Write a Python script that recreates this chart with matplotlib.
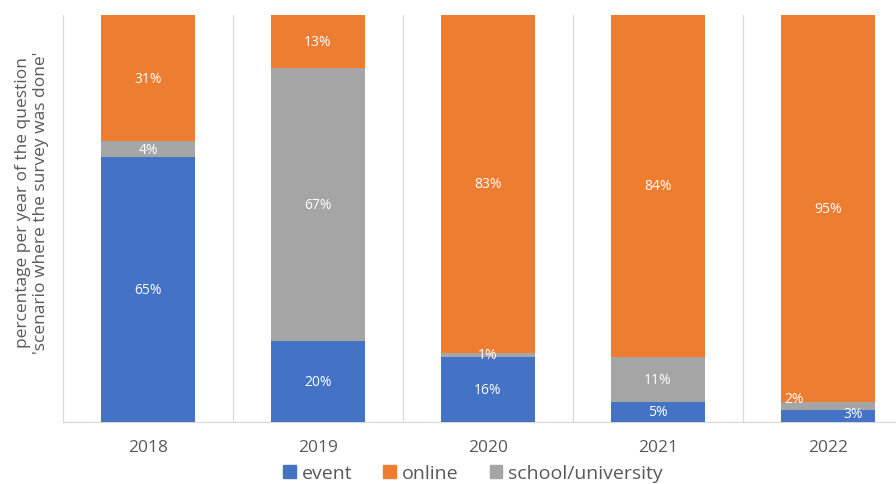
import matplotlib
matplotlib.use("Agg")
import matplotlib.pyplot as plt
from matplotlib.patches import Patch
import numpy as np

years = ["2018", "2019", "2020", "2021", "2022"]
event = [65, 20, 16, 5, 3]
school = [4, 67, 1, 11, 2]
online = [31, 13, 83, 84, 95]

c_event = "#4472C4"
c_online = "#ED7D31"
c_school = "#A5A5A5"
txt = "#595959"
grid = "#D9D9D9"

plt.rcParams["font.family"] = ["Open Sans", "DejaVu Sans"]

fig = plt.figure(figsize=(8.96, 4.85), dpi=100)
# plot area spans past the right edge of the canvas
ax = fig.add_axes([63 / 896, 1 - 423 / 485, 850 / 896, 407 / 485])

x = np.arange(len(years))
w = 0.55
ev = np.array(event)
sc = np.array(school)
on = np.array(online)
ax.bar(x, ev, w, color=c_event, zorder=3)
ax.bar(x, sc, w, bottom=ev, color=c_school, zorder=3)
ax.bar(x, on, w, bottom=ev + sc, color=c_online, zorder=3)

lab = dict(color="white", fontsize=10, ha="center", va="center", zorder=4)
for i in range(len(years)):
    e, s, o = ev[i], sc[i], on[i]
    if years[i] == "2022":
        ax.text(i - 0.2, e + s + 0.8, f"{s}%", **lab)
        ax.text(i + 0.15, e - 0.9, f"{e}%", **lab)
        ax.text(i, e + s + o / 2, f"{o}%", **lab)
        continue
    ax.text(i, e / 2, f"{e}%", **lab)
    ax.text(i, e + s / 2, f"{s}%", **lab)
    ax.text(i, e + s + o / 2, f"{o}%", **lab)

ax.set_xlim(-0.5, len(years) - 0.5)
ax.set_ylim(0, 100)
for b in np.arange(-0.5, len(years), 1.0):
    ax.axvline(b, color=grid, lw=0.9, zorder=1)

for s in ["top", "right", "left"]:
    ax.spines[s].set_visible(False)
ax.spines["bottom"].set_color(grid)
ax.spines["bottom"].set_linewidth(0.9)
ax.set_yticks([])
ax.set_xticks(x)
ax.set_xticklabels(years, color=txt, fontsize=12.5)
ax.tick_params(axis="x", length=0, pad=12)

fig.text(32 / 896, 1 - 203 / 485,
         "percentage per year of the question\n'scenario where the survey was done'",
         rotation=90, ha="center", va="center", color=txt, fontsize=12.5,
         linespacing=1.2)

handles = [Patch(color=c_event, label="event"),
           Patch(color=c_online, label="online"),
           Patch(color=c_school, label="school/university")]
fig.legend(handles=handles, loc="center", bbox_to_anchor=(473 / 896, 1 - 474 / 485),
           ncol=3, frameon=False, fontsize=14, handlelength=0.65, handleheight=0.65,
           handletextpad=0.3, columnspacing=1.6, labelcolor=txt)

fig.savefig("out.png", dpi=100)
